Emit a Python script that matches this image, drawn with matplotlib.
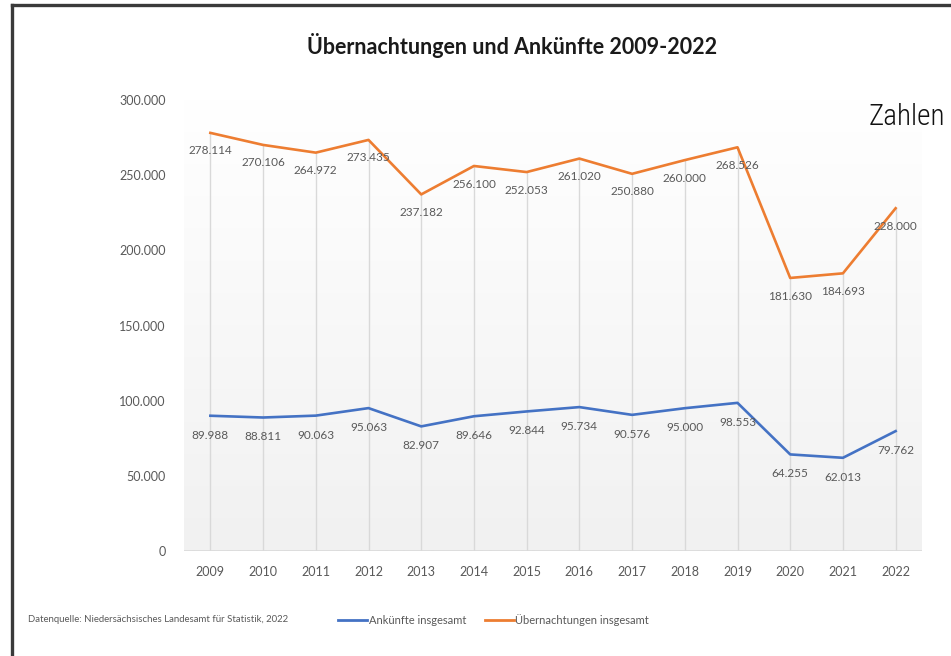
"""
Übernachtungen und Ankünfte 2009-2022 (Excel-Stil Liniendiagramm)
"""

import numpy as np
import matplotlib
matplotlib.use("Agg")
import matplotlib.pyplot as plt
from matplotlib.lines import Line2D
from matplotlib.ticker import FuncFormatter

plt.rcParams["font.family"] = ["Lato", "DejaVu Sans"]

# ── Daten ──────────────────────────────────────────────────────────────────────
years = ["2009", "2010", "2011", "2012", "2013", "2014", "2015",
         "2016", "2017", "2018", "2019", "2020", "2021", "2022"]
uebernachtungen = [278114, 270106, 264972, 273435, 237182, 256100, 252053,
                   261020, 250880, 260000, 268526, 181630, 184693, 228000]
ankuenfte = [89988, 88811, 90063, 95063, 82907, 89646, 92844,
             95734, 90576, 95000, 98553, 64255, 62013, 79762]
y_ticks = [0, 50000, 100000, 150000, 200000, 250000, 300000]

title = "Übernachtungen und Ankünfte 2009-2022"
source = "Datenquelle: Niedersächsisches Landesamt für Statistik, 2022"
label_ank = "Ankünfte insgesamt"
label_ueb = "Übernachtungen insgesamt"

BLUE = "#4472C4"
ORANGE = "#ED7D31"
GRAY_TXT = "#595959"


def de_fmt(v):
    return f"{v:,.0f}".replace(",", ".")


fig = plt.figure(figsize=(9.51, 6.56), dpi=100)
ax = fig.add_axes([0.1935, 0.160, 0.776, 0.6876])

x = np.arange(len(years))

# Hintergrund-Verlauf der Zeichenfläche
grad = np.linspace(1.0, 0.0, 256).reshape(-1, 1)
ax.imshow(grad, extent=[0, 1, 0, 1], transform=ax.transAxes, aspect="auto",
          cmap=matplotlib.colors.LinearSegmentedColormap.from_list(
              "g", ["#f1f1f1", "#ffffff"]), vmin=0, vmax=1, zorder=0)

# Lotlinien
ax.vlines(x, 0, uebernachtungen, color="#d9d9d9", lw=1, zorder=1)
ax.axhline(0, color="#d9d9d9", lw=1.2, zorder=1)

ax.plot(x, ankuenfte, color=BLUE, lw=1.9, zorder=3, solid_joinstyle="round")
ax.plot(x, uebernachtungen, color=ORANGE, lw=1.9, zorder=3, solid_joinstyle="round")

for xi, v in zip(x, uebernachtungen):
    ax.annotate(de_fmt(v), (xi, v), xytext=(0, -13), textcoords="offset points",
                ha="center", va="center", fontsize=8.5, color=GRAY_TXT, zorder=4)
for xi, v in zip(x, ankuenfte):
    ax.annotate(de_fmt(v), (xi, v), xytext=(0, -14), textcoords="offset points",
                ha="center", va="center", fontsize=8.5, color=GRAY_TXT, zorder=4)

ax.set_xlim(-0.5, len(years) - 0.5)
ax.set_ylim(0, 300000)
ax.set_xticks(x)
ax.set_xticklabels(years)
ax.set_yticks(y_ticks)
ax.yaxis.set_major_formatter(FuncFormatter(lambda v, p: de_fmt(v)))
ax.tick_params(axis="both", length=0, labelsize=9, colors=GRAY_TXT)
ax.tick_params(axis="x", pad=11)
ax.tick_params(axis="y", pad=13)
for s in ax.spines.values():
    s.set_visible(False)

fig.text(0.538, 0.931, title, ha="center", va="center", fontsize=15.5,
         fontweight="bold", color="#1a1a1a")

# Quelle und Legende
fig.text(0.029, 0.055, source, ha="left", va="center", fontsize=6.9, color=GRAY_TXT)
handles = [Line2D([], [], color=BLUE, lw=2), Line2D([], [], color=ORANGE, lw=2)]
fig.legend(handles, [label_ank, label_ueb], loc="center left",
           bbox_to_anchor=(0.345, 0.055), ncol=2, frameon=False, fontsize=8,
           handlelength=2.6, handletextpad=0.15, columnspacing=1.7,
           labelcolor=GRAY_TXT)

fig.text(0.994, 0.822, "Zahlen", ha="right", va="center", fontsize=21,
         family=["Roboto Condensed", "Liberation Sans Narrow", "Roboto", "DejaVu Sans"],
         fontweight="light", color="#111111")

# Rahmen
fig.add_artist(Line2D([0.0128, 0.0128], [0.0, 0.9924], transform=fig.transFigure,
                      color="#3a3a3a", lw=2.4, solid_capstyle="projecting"))
fig.add_artist(Line2D([0.0128, 1.0], [0.9924, 0.9924], transform=fig.transFigure,
                      color="#3a3a3a", lw=2.4, solid_capstyle="projecting"))

fig.savefig("out.png", dpi=100)
